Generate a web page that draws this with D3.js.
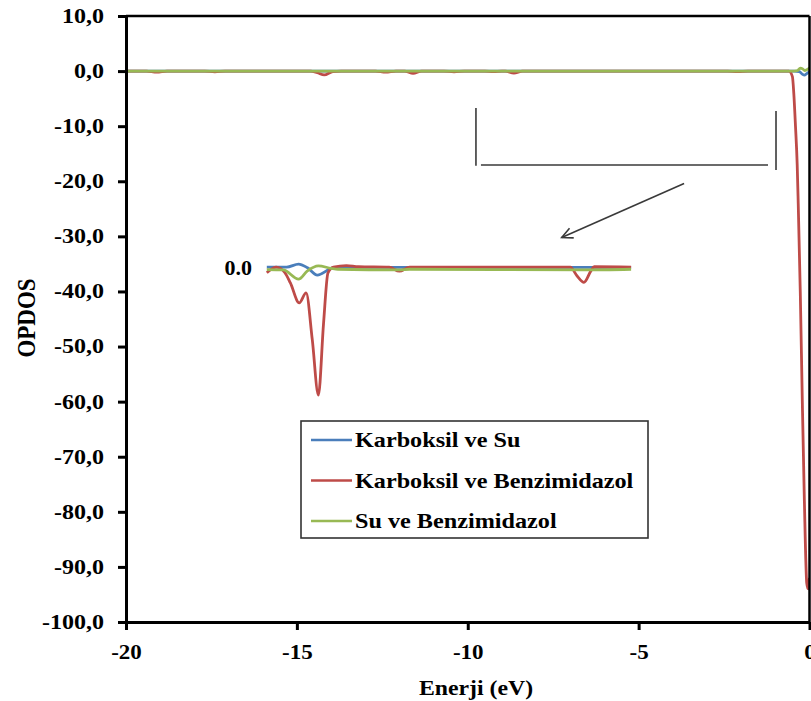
<!DOCTYPE html>
<html>
<head>
<meta charset="utf-8">
<script src="https://cdn.jsdelivr.net/npm/d3@7"></script>
<style>
  html, body { margin: 0; padding: 0; background: #fff; }
  svg { display: block; }
  text { font-family: "Liberation Serif", "Times New Roman", serif; font-weight: bold; fill: #000; }
</style>
</head>
<body>
<svg id="chart" width="811" height="701"></svg>
<script>
// ---- Series labels and colours ----
const seriesNames = ["Karboksil ve Su", "Karboksil ve Benzimidazol", "Su ve Benzimidazol"];
const seriesColors = ["#4a7ebb", "#be4b48", "#98b954"];

// ---- Axis ticks ----
const xTicks = [-20, -15, -10, -5, 0];
const yTicks = [10, 0, -10, -20, -30, -40, -50, -60, -70, -80, -90, -100];

// ---- Main OPDOS curves: [energy (eV), OPDOS] ----
const karboksilSu = [
  [-20, 0], [-1.0, 0], [-0.45, 0], [-0.3, -0.1], [-0.2, -0.6], [-0.15, -0.75],
  [-0.08, -0.45], [0, -0.1]
];
const karboksilBenzimidazol = [
  [-20, 0], [-19.4, 0], [-19.1, -0.2], [-18.8, 0], [-17.7, 0], [-17.4, -0.12], [-17.1, 0],
  [-14.6, 0], [-14.4, -0.3], [-14.2, -0.7], [-13.95, -0.1], [-13.7, 0],
  [-12.7, 0], [-12.4, -0.2], [-12.1, 0], [-11.85, 0], [-11.6, -0.4], [-11.35, 0],
  [-10.7, 0], [-10.4, -0.12], [-10.1, 0], [-9.5, 0], [-9.25, -0.1], [-9.0, 0],
  [-8.9, 0], [-8.65, -0.35], [-8.4, 0], [-2.4, 0], [-2.1, -0.1], [-1.8, 0],
  [-0.6, 0], [-0.5, -1], [-0.46, -4], [-0.41, -10], [-0.36, -17], [-0.33, -24],
  [-0.27, -40], [-0.21, -60], [-0.15, -78], [-0.08, -93], [-0.04, -94], [0, -92]
];
const suBenzimidazol = [
  [-20, 0], [-1.0, 0], [-0.45, 0], [-0.35, 0.1], [-0.27, 0.55], [-0.2, 0.4],
  [-0.14, 0.1], [-0.08, 0.25], [0, 0.6]
];

// ---- Magnified inset curves: [energy (eV), OPDOS] ----
const insetKarboksilSu = [
  [-15.88, 0.005], [-15.3, 0.005], [-14.95, 0.025], [-14.7, 0.003], [-14.4, -0.045],
  [-14.05, -0.008], [-13.9, 0.004], [-5.22, 0.004]
];
const insetKarboksilBenzimidazol = [
  [-15.88, -0.03], [-15.6, 0.005], [-15.35, -0.03], [-15.19, -0.094], [-14.93, -0.22],
  [-14.73, -0.157], [-14.55, -0.45], [-14.37, -0.8], [-14.22, -0.35], [-14.09, -0.03],
  [-13.93, 0.005], [-13.55, 0.015], [-13.2, 0.008], [-12.3, 0.005], [-12.0, -0.02],
  [-11.7, 0.005], [-7.0, 0.005], [-6.8, -0.05], [-6.6, -0.09], [-6.4, -0.02],
  [-6.3, 0.008], [-5.22, 0.005]
];
const insetSuBenzimidazol = [
  [-15.88, -0.01], [-15.4, -0.012], [-14.95, -0.07], [-14.7, -0.02], [-14.37, 0.013],
  [-14.0, -0.002], [-13.8, -0.008], [-12.0, -0.012], [-11.7, -0.008], [-6.6, -0.012],
  [-5.22, -0.008]
];

// ---- Zoom bracket and arrow, in data units ----
const bracketE = [-9.76, -0.98];
const bracketV = { leftTop: -6.7, leftBottom: -17.2, rightTop: -7.24, rightBottom: -17.95, bar: -17.04 };
const arrowFrom = [-3.67, -20.4];
const arrowTo = [-7.25, -30.2];

// ---- Layout ----
const svg = d3.select("#chart");
const plot = { left: 126, right: 809.5, top: 16, bottom: 622 };

const x = d3.scaleLinear().domain([-20, 0]).range([plot.left, plot.right]);
const y = d3.scaleLinear().domain([-100, 10]).range([plot.bottom, plot.top]);
const yInset = d3.scaleLinear().domain([0, -0.8]).range([268, 395]);

const fmt = d => d.toFixed(1).replace(".", ",");

// widen glyphs horizontally by a factor, keeping the anchor
function stretch(sel, f) {
  sel.each(function () {
    const w = this.getComputedTextLength();
    d3.select(this).attr("textLength", w * f).attr("lengthAdjust", "spacingAndGlyphs");
  });
}

// ---- Curves ----
svg.append("clipPath").attr("id", "plotclip")
  .append("rect").attr("x", plot.left).attr("y", plot.top)
  .attr("width", plot.right - plot.left).attr("height", plot.bottom - plot.top);

const mainLine = d3.line().x(d => x(d[0])).y(d => y(d[1])).curve(d3.curveMonotoneX);
const insetLine = d3.line().x(d => x(d[0])).y(d => yInset(d[1])).curve(d3.curveMonotoneX);

const mainSeries = [karboksilSu, karboksilBenzimidazol, suBenzimidazol];
const insetSeries = [insetKarboksilSu, insetKarboksilBenzimidazol, insetSuBenzimidazol];

const gMain = svg.append("g").attr("clip-path", "url(#plotclip)");
mainSeries.forEach((s, i) => {
  gMain.append("path").datum(s)
    .attr("d", mainLine)
    .attr("fill", "none")
    .attr("stroke", seriesColors[i])
    .attr("stroke-width", 2.8)
    .attr("stroke-linejoin", "round");
});

const gInset = svg.append("g");
insetSeries.forEach((s, i) => {
  gInset.append("path").datum(s)
    .attr("d", insetLine)
    .attr("fill", "none")
    .attr("stroke", seriesColors[i])
    .attr("stroke-width", 2.8)
    .attr("stroke-linejoin", "round");
});

gInset.append("text")
  .attr("x", 252).attr("y", yInset(0))
  .attr("dy", "0.3em")
  .attr("text-anchor", "end")
  .style("font-size", "22px")
  .text("0.0");

// ---- Frame (top and right edges of the plot area) ----
svg.append("line")
  .attr("x1", plot.left).attr("x2", plot.right)
  .attr("y1", plot.top).attr("y2", plot.top)
  .attr("stroke", "#000").attr("stroke-width", 2.5);
svg.append("line")
  .attr("x1", plot.right).attr("x2", plot.right)
  .attr("y1", plot.top).attr("y2", plot.bottom)
  .attr("stroke", "#000").attr("stroke-width", 2.5);

// ---- Axes ----
const yAxis = svg.append("g")
  .attr("transform", `translate(${plot.left},0)`)
  .call(d3.axisLeft(y).tickValues(yTicks).tickFormat(fmt).tickSize(8).tickSizeOuter(0).tickPadding(14));
const xAxis = svg.append("g")
  .attr("transform", `translate(0,${plot.bottom})`)
  .call(d3.axisBottom(x).tickValues(xTicks).tickFormat(d => String(d)).tickSize(8).tickSizeOuter(0).tickPadding(15));

[yAxis, xAxis].forEach(g => {
  g.select(".domain").attr("stroke", "#000").attr("stroke-width", 3);
  g.selectAll(".tick line").attr("stroke", "#000").attr("stroke-width", 3);
  g.selectAll(".tick text")
    .attr("fill", "#000")
    .style("font-family", "'Liberation Serif', 'Times New Roman', serif")
    .style("font-weight", "bold")
    .style("font-size", "20px");
});
stretch(yAxis.selectAll(".tick text"), 1.2);
stretch(xAxis.selectAll(".tick text"), 1.15);

// ---- Axis titles ----
const xTitle = svg.append("text")
  .attr("x", 476).attr("y", 695)
  .attr("text-anchor", "middle")
  .style("font-size", "22px")
  .text("Enerji (eV)");
stretch(xTitle, 1.08);

svg.append("g")
  .attr("transform", "translate(26,318) scale(1.13,1) rotate(-90)")
  .append("text")
  .attr("text-anchor", "middle")
  .attr("dy", "0.35em")
  .style("font-size", "23px")
  .text("OPDOS");

// ---- Zoom bracket and arrow ----
const annColor = "#3a3a3a";
const ann = svg.append("g").attr("stroke", annColor).attr("stroke-width", 1.6).attr("fill", "none");
ann.append("line")
  .attr("x1", x(bracketE[0])).attr("x2", x(bracketE[0]))
  .attr("y1", y(bracketV.leftTop)).attr("y2", y(bracketV.leftBottom));
ann.append("line")
  .attr("x1", x(bracketE[0]) + 5).attr("x2", x(bracketE[1]) - 8)
  .attr("y1", y(bracketV.bar)).attr("y2", y(bracketV.bar));
ann.append("line")
  .attr("x1", x(bracketE[1])).attr("x2", x(bracketE[1]))
  .attr("y1", y(bracketV.rightTop)).attr("y2", y(bracketV.rightBottom));

const ax0 = x(arrowFrom[0]), ay0 = y(arrowFrom[1]);
const ax1 = x(arrowTo[0]), ay1 = y(arrowTo[1]);
ann.append("line").attr("x1", ax0).attr("y1", ay0).attr("x2", ax1).attr("y2", ay1);
const ang = Math.atan2(ay1 - ay0, ax1 - ax0);
const headLen = 12, headSpread = 0.45;
ann.append("path")
  .attr("d", d3.line()([
    [ax1 - headLen * Math.cos(ang - headSpread), ay1 - headLen * Math.sin(ang - headSpread)],
    [ax1, ay1],
    [ax1 - headLen * Math.cos(ang + headSpread), ay1 - headLen * Math.sin(ang + headSpread)]
  ]));

// ---- Legend ----
const legend = svg.append("g");
legend.append("rect")
  .attr("x", 301).attr("y", 421).attr("width", 347).attr("height", 117)
  .attr("fill", "#fff").attr("stroke", "#333").attr("stroke-width", 1.6);
seriesNames.forEach((name, i) => {
  const ly = 440 + i * 40.5;
  legend.append("line")
    .attr("x1", 311).attr("x2", 352).attr("y1", ly).attr("y2", ly)
    .attr("stroke", seriesColors[i]).attr("stroke-width", 2.6);
  const t = legend.append("text")
    .attr("x", 355).attr("y", ly).attr("dy", "0.33em")
    .style("font-size", "22px")
    .text(name);
  stretch(t, 1.1);
});
</script>
</body>
</html>
